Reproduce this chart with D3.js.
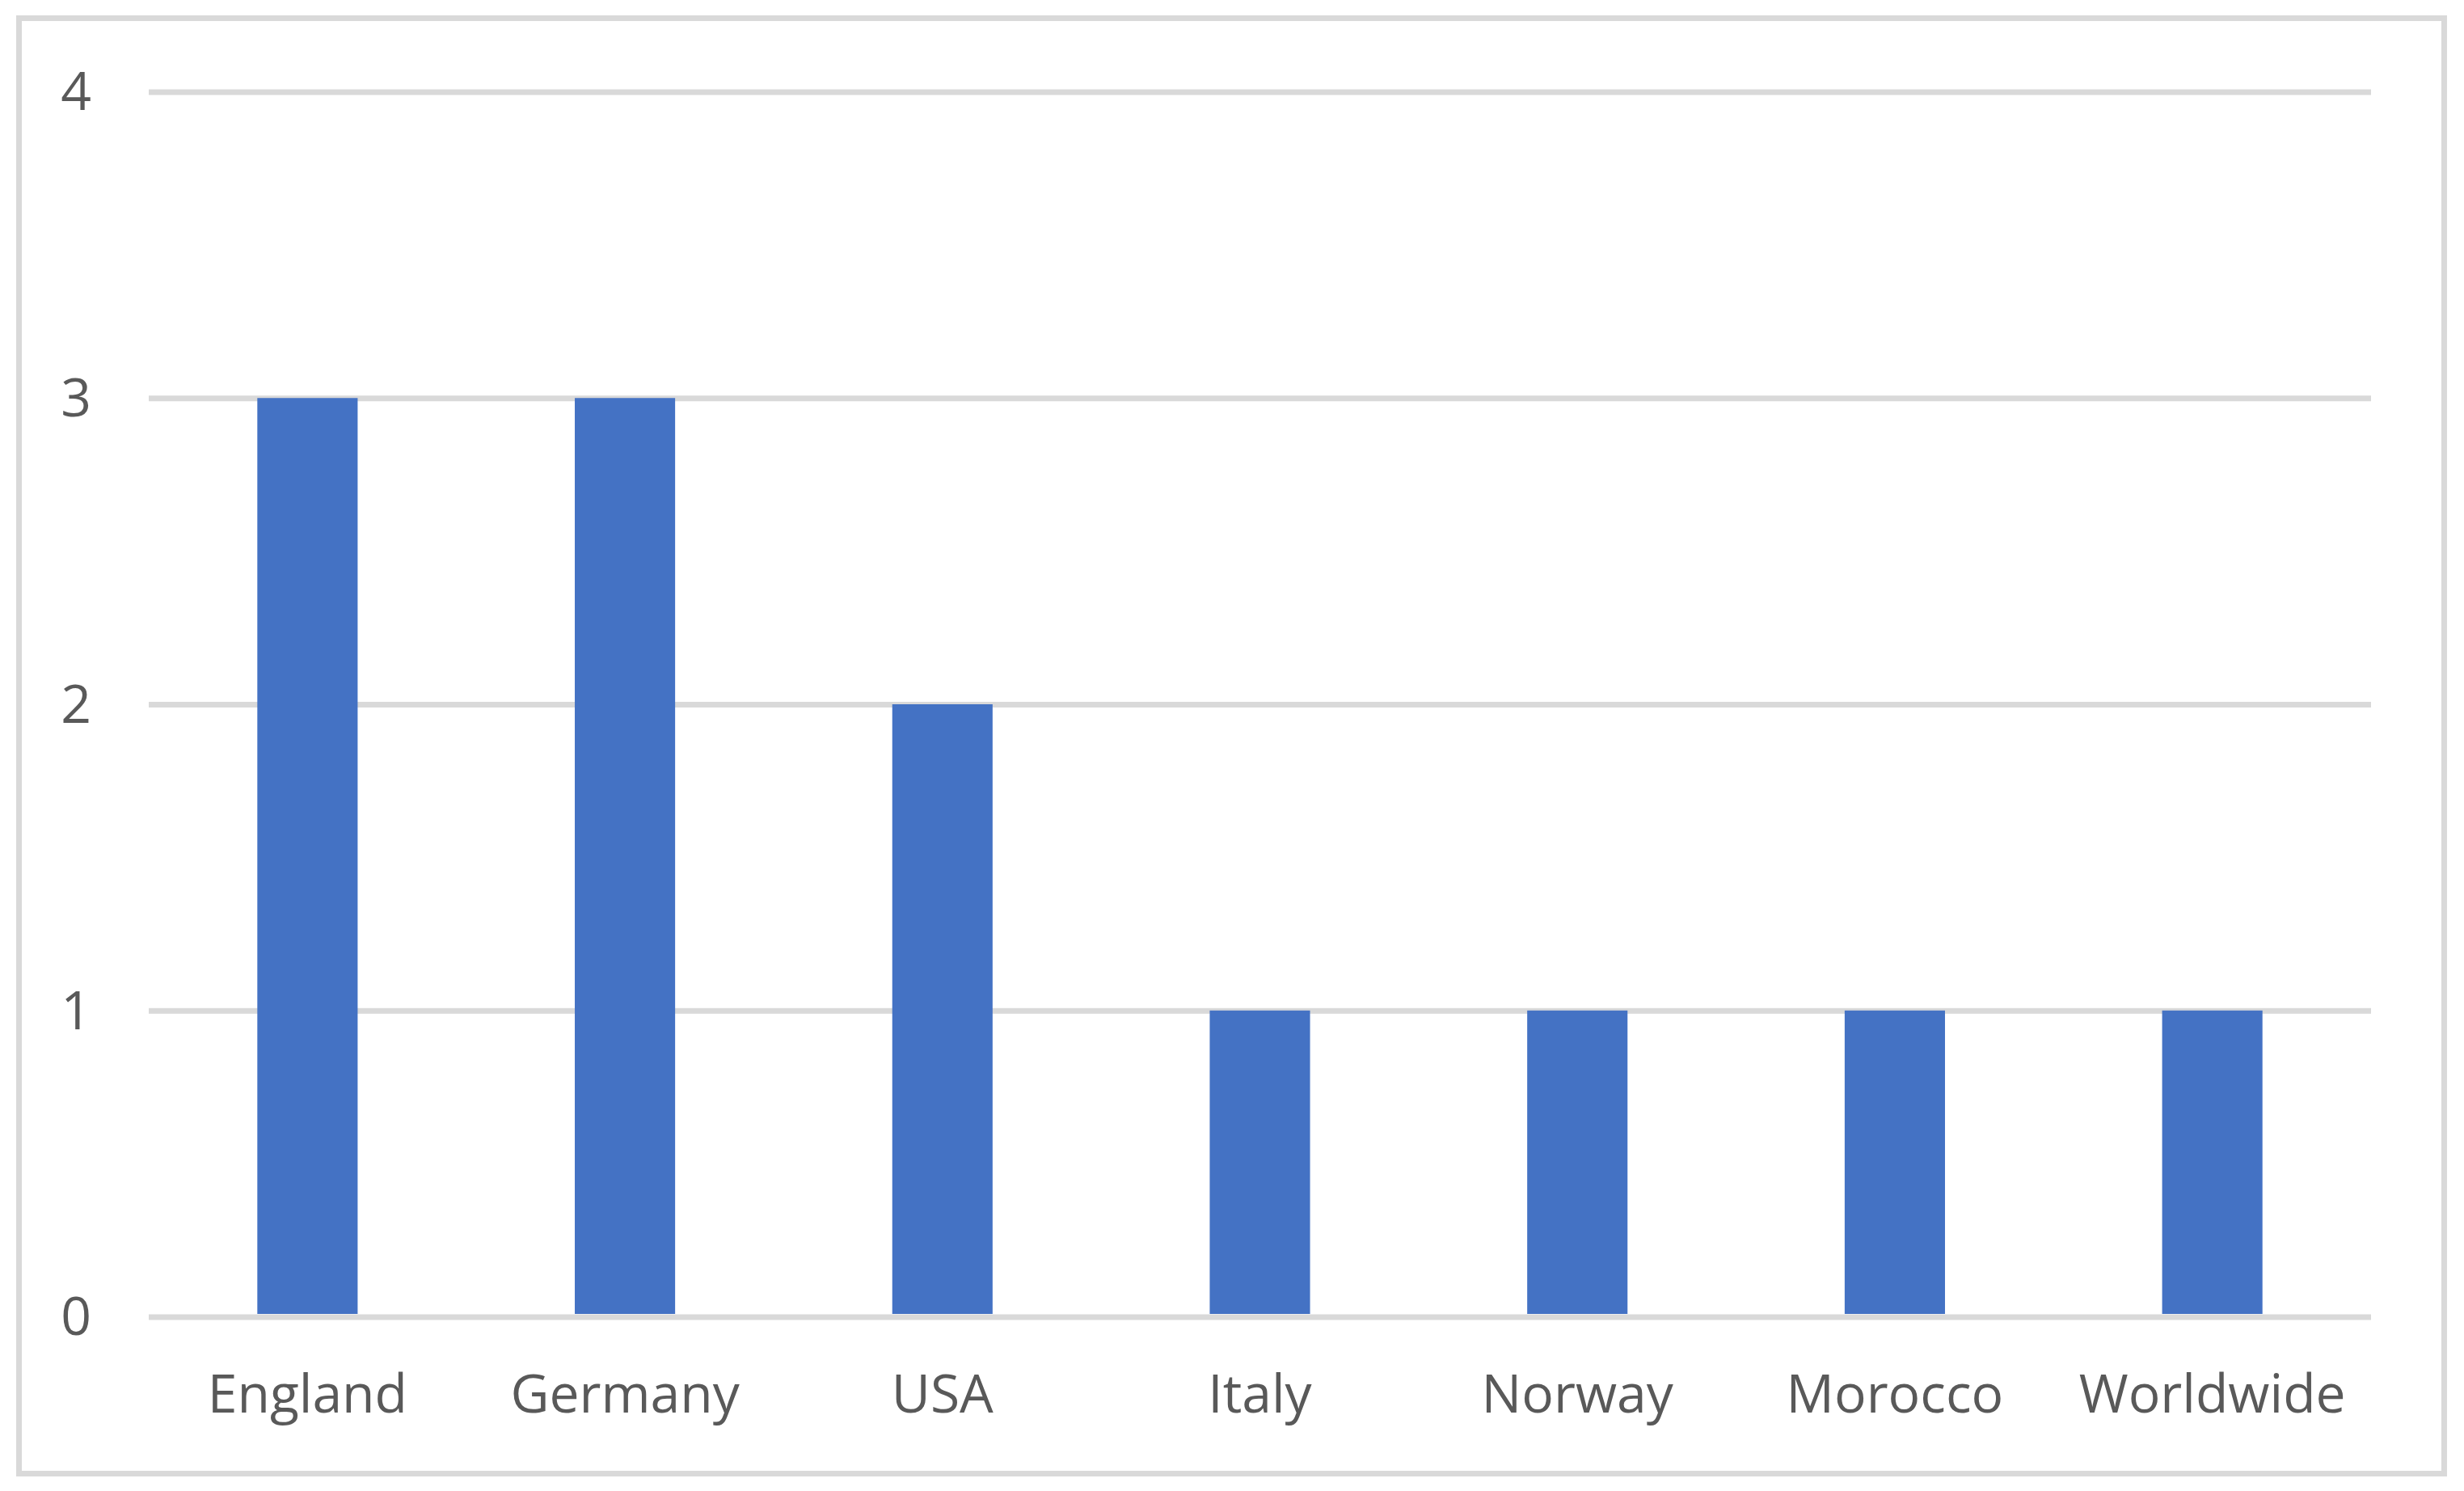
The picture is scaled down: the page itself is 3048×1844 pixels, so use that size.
<!DOCTYPE html>
<html>
<head>
<meta charset="utf-8">
<script src="https://cdn.jsdelivr.net/npm/d3@7"></script>
<style>
  body { margin: 0; background: #fff; }
  text { font-family: "Open Sans", sans-serif; fill: #595959; }
</style>
</head>
<body>
<div id="chart"></div>
<script>
const countries = ['England', 'Germany', 'USA', 'Italy', 'Norway', 'Morocco', 'Worldwide'];
const counts = [3, 3, 2, 1, 1, 1, 1];
const yTicks = [0, 1, 2, 3, 4];

const width = 3048, height = 1844;
const margin = {top: 113.5, left: 184, right: 115, bottom: 215.5};
const innerW = width - margin.left - margin.right;
const innerH = height - margin.top - margin.bottom;

const svg = d3.select('#chart').append('svg')
  .attr('width', width)
  .attr('height', height);

// Chart border
svg.append('rect')
  .attr('x', 23.5).attr('y', 22.5)
  .attr('width', 3000).attr('height', 1800)
  .attr('fill', 'none')
  .attr('stroke', '#d9d9d9')
  .attr('stroke-width', 7);

const g = svg.append('g')
  .attr('transform', 'translate(' + margin.left + ',' + margin.top + ')');

// Scales
const x = d3.scaleBand()
  .domain(countries)
  .range([0, innerW])
  .paddingInner(0.684)
  .paddingOuter(0.342);

const y = d3.scaleLinear()
  .domain([0, 4])
  .range([innerH, 0]);

// Y axis with gridlines
g.append('g')
  .call(d3.axisLeft(y).tickValues(yTicks).tickFormat(d3.format('d')).tickSize(-innerW).tickPadding(71))
  .call(a => a.select('.domain').remove())
  .call(a => a.selectAll('line').attr('stroke', '#d9d9d9').attr('stroke-width', 7))
  .call(a => a.selectAll('text')
    .attr('font-size', 66)
    .attr('font-family', '"Open Sans", sans-serif')
    .attr('fill', '#595959')
    .attr('dy', '0.34em'));

// Bars
g.append('g')
  .selectAll('rect')
  .data(countries)
  .enter().append('rect')
    .attr('x', d => x(d))
    .attr('y', (d, i) => y(counts[i]))
    .attr('width', x.bandwidth())
    .attr('height', (d, i) => innerH - y(counts[i]) - 3.5)
    .attr('fill', '#4472c4');

// X axis labels
g.append('g')
  .attr('transform', 'translate(0,' + innerH + ')')
  .call(d3.axisBottom(x).tickSize(0).tickPadding(72))
  .call(a => a.select('.domain').remove())
  .call(a => a.selectAll('text')
    .attr('font-size', 66)
    .attr('font-family', '"Open Sans", sans-serif')
    .attr('fill', '#595959'));
</script>
</body>
</html>
